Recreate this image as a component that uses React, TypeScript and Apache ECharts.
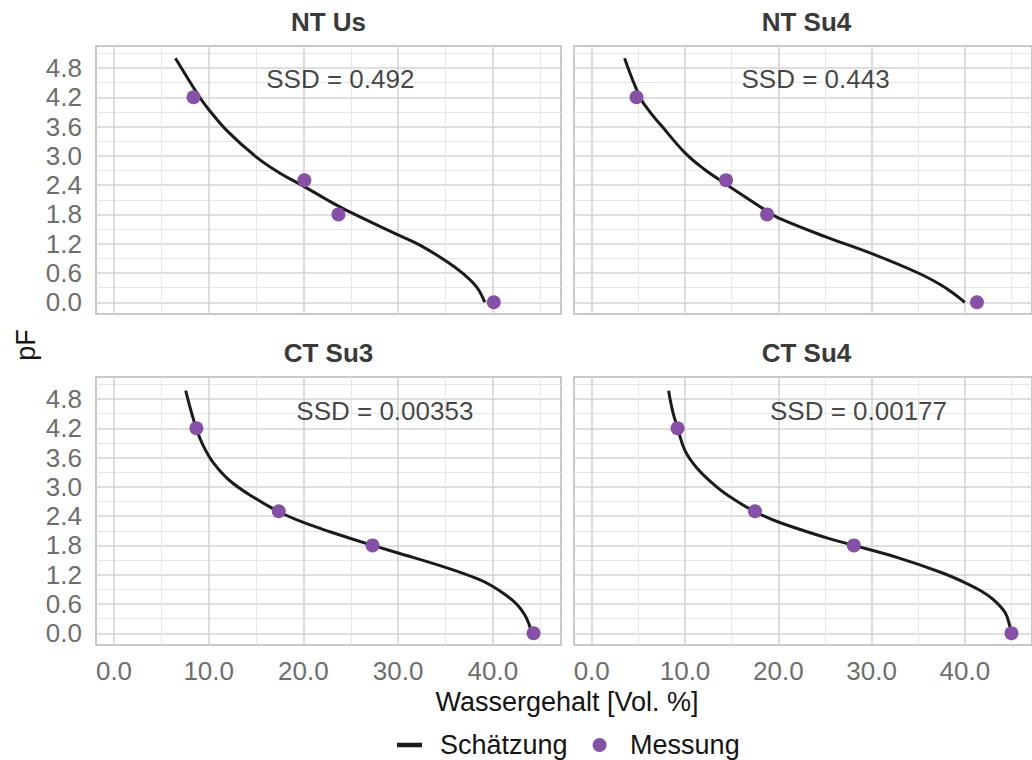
import React, { useEffect, useRef } from "react";
import * as echarts from "echarts";

// ---------- data ----------
const panelTitles = ["NT Us", "NT Su4", "CT Su3", "CT Su4"];
const ssdLabels = ["SSD = 0.492", "SSD = 0.443", "SSD = 0.00353", "SSD = 0.00177"];
const ssdX = [23.9, 24.0, 28.6, 28.6];
const ssdY = [4.58, 4.58, 4.56, 4.56];

const measuredPF = [4.2, 2.5, 1.8, 0.0];
const ntUsMeasuredX = [8.4, 20.1, 23.7, 40.1];
const ntSu4MeasuredX = [4.8, 14.4, 18.8, 41.3];
const ctSu3MeasuredX = [8.7, 17.4, 27.3, 44.3];
const ctSu4MeasuredX = [9.2, 17.5, 28.1, 45.0];

const ntUsCurve = [
  [6.49, 5.0], [9.05, 4.2], [10.0, 3.95], [12.0, 3.5], [15.0, 2.98],
  [17.4, 2.66], [20.0, 2.38], [22.5, 2.1], [25.0, 1.84], [30.0, 1.38],
  [32.3, 1.17], [35.1, 0.84], [36.9, 0.58], [38.3, 0.31], [39.15, 0.0],
];
const ntSu4Curve = [
  [3.52, 5.0], [5.18, 4.2], [6.23, 3.9], [7.46, 3.62], [10.0, 3.06],
  [12.03, 2.73], [14.4, 2.42], [18.85, 1.86], [20.0, 1.73], [25.1, 1.34],
  [30.1, 0.99], [35.0, 0.6], [37.4, 0.36], [38.8, 0.18], [40.0, 0.0],
];
const ctSu3Curve = [
  [7.57, 4.97], [8.17, 4.53], [8.7, 4.19], [9.4, 3.85], [10.46, 3.5],
  [12.2, 3.13], [14.7, 2.79], [17.4, 2.49], [20.0, 2.27], [22.8, 2.08],
  [27.3, 1.8], [30.1, 1.64], [35.0, 1.35], [38.6, 1.1], [40.0, 0.96],
  [41.4, 0.78], [42.5, 0.6], [43.3, 0.4], [43.8, 0.2], [44.1, 0.0],
];
const ctSu4Curve = [
  [8.24, 4.97], [8.7, 4.53], [9.23, 4.19], [10.0, 3.74], [11.34, 3.37],
  [13.45, 2.99], [15.2, 2.75], [17.5, 2.49], [20.0, 2.28], [25.1, 1.96],
  [28.1, 1.8], [32.8, 1.55], [37.4, 1.25], [40.0, 1.04], [41.8, 0.86],
  [43.0, 0.7], [44.3, 0.43], [44.8, 0.16], [44.9, 0.0],
];

const xMajorTicks = [0, 10, 20, 30, 40];
const xMinorTicks = [5, 15, 25, 35, 45];
const yMajorTicks = [0, 0.6, 1.2, 1.8, 2.4, 3.0, 3.6, 4.2, 4.8];
const yMinorTicks = [0.3, 0.9, 1.5, 2.1, 2.7, 3.3, 3.9, 4.5, 5.1];

const curves = [ntUsCurve, ntSu4Curve, ctSu3Curve, ctSu4Curve];
const measuredXs = [ntUsMeasuredX, ntSu4MeasuredX, ctSu3MeasuredX, ctSu4MeasuredX];

// ---------- layout ----------
const X_MIN = -1.9, X_MAX = 47.2, Y_MIN = -0.24, Y_MAX = 5.25;
const grids = [
  { left: 96, top: 46 },
  { left: 574, top: 46 },
  { left: 96, top: 377 },
  { left: 574, top: 377 },
];
const GW = 465, GH = 268;
const FONT = "'Liberation Sans', Arial, Helvetica, sans-serif";
const TICK_COLOR = "#6e6e6e";
const TEXT_COLOR = "#141414";
const LINE_COLOR = "#1c1a1b";
const POINT_COLOR = "#8650a6";
const LINE_ICON = "path://M0,0L0.01,0ZM0,4.75L25,4.75L25,9.25L0,9.25ZM0,14L0.01,14Z";

export default function App() {
  const ref = useRef<HTMLDivElement>(null);
  useEffect(() => {
    if (!ref.current) return;
    const chart = echarts.init(ref.current, null, { renderer: "svg" });

    const gridOpt: any[] = [];
    const xAxes: any[] = [];
    const yAxes: any[] = [];
    const series: any[] = [];
    const graphics: any[] = [];

    grids.forEach((g, i) => {
      gridOpt.push({
        left: g.left, top: g.top, width: GW, height: GH,
        show: true, borderColor: "#b8b8b8", borderWidth: 1.5,
        backgroundColor: "transparent",
      });
      const showX = i >= 2;
      const showY = i % 2 === 0;
      xAxes.push({
        type: "value", gridIndex: i, min: X_MIN, max: X_MAX, position: "bottom",
        axisLine: { show: false },
        axisTick: { show: false, customValues: xMajorTicks },
        axisLabel: {
          show: showX, customValues: xMajorTicks, margin: 13,
          formatter: (v: number) => v.toFixed(1),
          color: TICK_COLOR, fontSize: 26, fontFamily: FONT,
        },
        splitLine: { show: true, lineStyle: { color: "#d4d4d4", width: 1.6 } },
      });
      xAxes.push({
        type: "value", gridIndex: i, min: X_MIN, max: X_MAX, position: "top",
        axisLine: { show: false },
        axisTick: { show: false, customValues: xMinorTicks },
        axisLabel: { show: false, customValues: xMinorTicks },
        splitLine: { show: true, lineStyle: { color: "#e6e6e6", width: 1 } },
      });
      yAxes.push({
        type: "value", gridIndex: i, min: Y_MIN, max: Y_MAX, position: "left",
        axisLine: { show: false },
        axisTick: { show: false, customValues: yMajorTicks },
        axisLabel: {
          show: showY, customValues: yMajorTicks, margin: 14,
          formatter: (v: number) => v.toFixed(1),
          color: TICK_COLOR, fontSize: 26, fontFamily: FONT,
        },
        splitLine: { show: true, lineStyle: { color: "#d4d4d4", width: 1.6 } },
      });
      yAxes.push({
        type: "value", gridIndex: i, min: Y_MIN, max: Y_MAX, position: "right",
        axisLine: { show: false },
        axisTick: { show: false, customValues: yMinorTicks },
        axisLabel: { show: false, customValues: yMinorTicks },
        splitLine: { show: true, lineStyle: { color: "#e6e6e6", width: 1 } },
      });

      series.push({
        type: "line", name: "Schätzung",
        xAxisIndex: 2 * i, yAxisIndex: 2 * i,
        data: curves[i], smooth: 0.4, symbol: "none",
        lineStyle: { color: LINE_COLOR, width: 3 },
        itemStyle: { color: LINE_COLOR },
        z: 3,
      });
      series.push({
        type: "scatter", name: "Messung",
        xAxisIndex: 2 * i, yAxisIndex: 2 * i,
        data: measuredXs[i].map((x, j) => [x, measuredPF[j]]),
        symbolSize: 14,
        itemStyle: { color: POINT_COLOR, opacity: 1 },
        z: 4,
      });
      series.push({
        type: "scatter", name: "ssd" + i,
        xAxisIndex: 2 * i, yAxisIndex: 2 * i,
        data: [[ssdX[i], ssdY[i]]],
        symbolSize: 2, itemStyle: { color: "rgba(0,0,0,0)" }, silent: true,
        label: {
          show: true, position: "inside", formatter: ssdLabels[i],
          fontSize: 26, color: TEXT_COLOR, fontFamily: FONT,
        },
        labelLayout: { hideOverlap: false },
        z: 5,
      });

      graphics.push({
        type: "text",
        x: g.left + GW / 2,
        y: i < 2 ? 22 : 353,
        style: {
          text: panelTitles[i], align: "center", verticalAlign: "middle",
          fontSize: 26, fontWeight: "bold", fill: "#3a3a3a", fontFamily: FONT,
        },
      });
    });

    graphics.push({
      type: "text", x: 567, y: 702,
      style: {
        text: "Wassergehalt [Vol. %]", align: "center", verticalAlign: "middle",
        fontSize: 27, fill: TEXT_COLOR, fontFamily: FONT,
      },
    });
    graphics.push({
      type: "text", x: 26, y: 345, rotation: Math.PI / 2,
      style: {
        text: "pF", align: "center", verticalAlign: "middle",
        fontSize: 27, fill: TEXT_COLOR, fontFamily: FONT,
      },
    });

    chart.setOption({
      animation: false,
      backgroundColor: "#ffffff",
      textStyle: { fontFamily: FONT },
      grid: gridOpt,
      xAxis: xAxes,
      yAxis: yAxes,
      series,
      graphic: graphics,
      legend: {
        data: [
          { name: "Schätzung", icon: LINE_ICON, itemStyle: { color: LINE_COLOR, borderWidth: 0 } },
          { name: "Messung", icon: "circle", itemStyle: { color: POINT_COLOR, borderWidth: 0 } },
        ],
        left: 397, top: 731, padding: 0,
        itemWidth: 25, itemHeight: 14, itemGap: 25,
        textStyle: {
          fontSize: 27, lineHeight: 28, color: TEXT_COLOR, fontFamily: FONT,
          padding: [0, 0, 0, 13],
        },
      },
    });
    return () => chart.dispose();
  }, []);
  return (
    <div
      ref={ref}
      style={{ position: "absolute", left: 0, top: 0, width: 1032, height: 760 }}
    />
  );
}
